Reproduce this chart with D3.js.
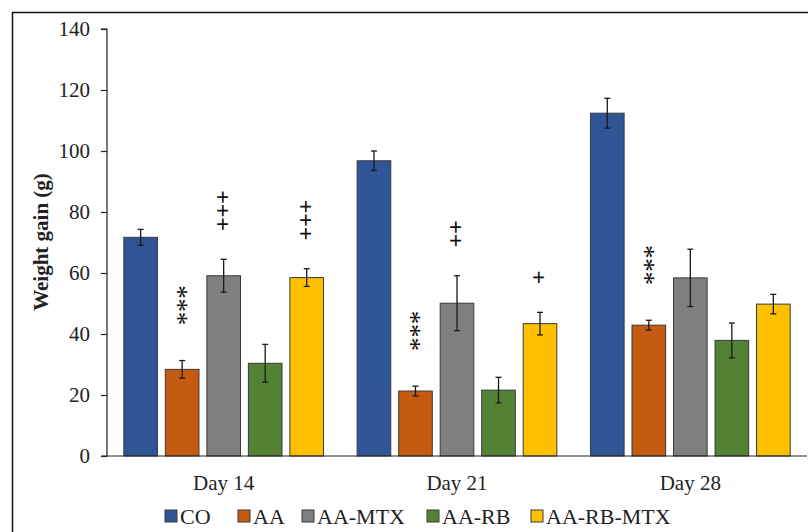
<!DOCTYPE html>
<html>
<head>
<meta charset="utf-8">
<script src="https://cdn.jsdelivr.net/npm/d3@7"></script>
<style>
  html, body { margin: 0; padding: 0; background: #fff; }
  svg { display: block; }
  text { font-family: "Liberation Serif", "Times New Roman", serif; fill: #222; }
</style>
</head>
<body>
<svg id="chart" width="808" height="532"></svg>
<script>
// Weight gain (g) per group at each time point, mean and error
const days = ["Day 14", "Day 21", "Day 28"];
const groups = ["CO", "AA", "AA-MTX", "AA-RB", "AA-RB-MTX"];
const colors = ["#2F5597", "#C55A11", "#7F7F7F", "#548235", "#FFC000"];

const valCO      = [71.7, 96.8, 112.4];
const valAA      = [28.4, 21.3, 42.9];
const valMTX     = [59.1, 50.1, 58.4];
const valRB      = [30.4, 21.6, 37.9];
const valRBMTX   = [58.5, 43.4, 49.8];

const errCO      = [2.6, 3.2, 4.9];
const errAA      = [2.9, 1.6, 1.6];
const errMTX     = [5.4, 9.0, 9.4];
const errRB      = [6.2, 4.2, 5.7];
const errRBMTX   = [2.9, 3.7, 3.2];

// significance marks: *** vs CO, + vs AA
const sigCO      = ["", "", ""];
const sigAA      = ["***", "***", "***"];
const sigMTX     = ["+++", "++", ""];
const sigRB      = ["", "", ""];
const sigRBMTX   = ["+++", "+", ""];

const yTicks = [0, 20, 40, 60, 80, 100, 120, 140];

const values = [valCO, valAA, valMTX, valRB, valRBMTX];
const errors = [errCO, errAA, errMTX, errRB, errRBMTX];
const sigs   = [sigCO, sigAA, sigMTX, sigRB, sigRBMTX];

const rows = [];
days.forEach((d, di) => groups.forEach((g, gi) => rows.push({
  day: d, group: g, gi, v: values[gi][di], e: errors[gi][di], sig: sigs[gi][di]
})));

const svg = d3.select("#chart");
const W = 808, H = 532;
const plot = { left: 107, right: 807, top: 29, bottom: 456 };

// outer frame
svg.append("rect")
  .attr("x", 12.5).attr("y", 12.5)
  .attr("width", W).attr("height", H)
  .attr("fill", "none").attr("stroke", "#111").attr("stroke-width", 1.5);

const x0 = d3.scaleBand().domain(days).range([plot.left, plot.right]).padding(0);
const x1 = d3.scaleBand().domain(groups).range([0, x0.bandwidth()])
  .paddingInner(0.19).paddingOuter(0.405);
const y = d3.scaleLinear().domain([0, 140]).range([plot.bottom, plot.top]);

// bars
svg.append("g").selectAll("rect").data(rows).join("rect")
  .attr("x", d => x0(d.day) + x1(d.group))
  .attr("y", d => y(d.v))
  .attr("width", x1.bandwidth())
  .attr("height", d => y(0) - y(d.v))
  .attr("fill", d => colors[d.gi])
  .attr("stroke", "#3a3a3a")
  .attr("stroke-width", 1);

// error bars
const eg = svg.append("g").attr("stroke", "#1a1a1a").attr("stroke-width", 1.3);
rows.forEach(d => {
  const cx = x0(d.day) + x1(d.group) + x1.bandwidth() / 2;
  eg.append("line").attr("x1", cx).attr("x2", cx).attr("y1", y(d.v + d.e)).attr("y2", y(d.v - d.e));
  eg.append("line").attr("x1", cx - 3).attr("x2", cx + 3).attr("y1", y(d.v + d.e)).attr("y2", y(d.v + d.e));
  eg.append("line").attr("x1", cx - 3).attr("x2", cx + 3).attr("y1", y(d.v - d.e)).attr("y2", y(d.v - d.e));
});

// significance marks: one upward-reading text per bar, each symbol placed
// at a fixed step along the rotated baseline
const sg = svg.append("g");
rows.filter(d => d.sig).forEach(d => {
  const cx = x0(d.day) + x1(d.group) + x1.bandwidth() / 2;
  const isStar = d.sig[0] === "*";
  const size = isStar ? 27 : 24;
  const step = isStar ? 13.3 : 13.5;     // spacing between stacked symbols
  const gap = isStar ? 42 : 35;          // error cap to lowest symbol centre
  const lift = isStar ? 0.47 : 0.25;     // glyph centre above baseline, em
  const lowest = y(d.v + d.e) - gap;
  const t = sg.append("text")
    .attr("transform", `translate(${cx + lift * size},${lowest}) rotate(-90)`)
    .attr("text-anchor", "middle")
    .style("font-size", size + "px")
    .style("font-weight", isStar ? "normal" : "bold")
    .style("fill", "#111");
  d.sig.split("").forEach((ch, i) => {
    t.append("tspan").attr("x", i * step).attr("y", 0).text(ch);
  });
});

// y axis
const yAxis = d3.axisLeft(y).tickValues(yTicks).tickSize(6).tickPadding(11);
const gy = svg.append("g").attr("transform", `translate(${plot.left},0)`).call(yAxis);
gy.select(".domain").attr("stroke", "#222").attr("stroke-width", 1.2)
  .attr("d", `M-6,${plot.top}H0V${plot.bottom}H-6`);
gy.selectAll(".tick line").attr("stroke", "#222").attr("stroke-width", 1.2);
gy.selectAll(".tick text").style("font-size", "21px").style("font-family", "Liberation Serif, serif").attr("fill", "#222");

// x axis line and category labels
svg.append("line").attr("x1", plot.left).attr("x2", plot.right)
  .attr("y1", plot.bottom).attr("y2", plot.bottom)
  .attr("stroke", "#222").attr("stroke-width", 1.2);
svg.append("g").selectAll("text").data(days).join("text")
  .attr("x", d => x0(d) + x0.bandwidth() / 2)
  .attr("y", 490)
  .attr("text-anchor", "middle")
  .style("font-size", "21px")
  .text(d => d);

// y axis title
svg.append("text")
  .attr("transform", "translate(48,242) rotate(-90)")
  .attr("text-anchor", "middle")
  .style("font-size", "21px")
  .style("font-weight", "bold")
  .text("Weight gain (g)");

// legend
const legendX = [165, 238, 302, 427, 531];
const lg = svg.append("g");
groups.forEach((g, i) => {
  const item = lg.append("g").attr("transform", `translate(${legendX[i]},516)`);
  item.append("rect").attr("x", 0).attr("y", -6).attr("width", 12).attr("height", 12)
    .attr("fill", colors[i]).attr("stroke", "#3a3a3a").attr("stroke-width", 1);
  item.append("text").attr("x", 15).attr("y", 8).style("font-size", "22px").text(g);
});
</script>
</body>
</html>
